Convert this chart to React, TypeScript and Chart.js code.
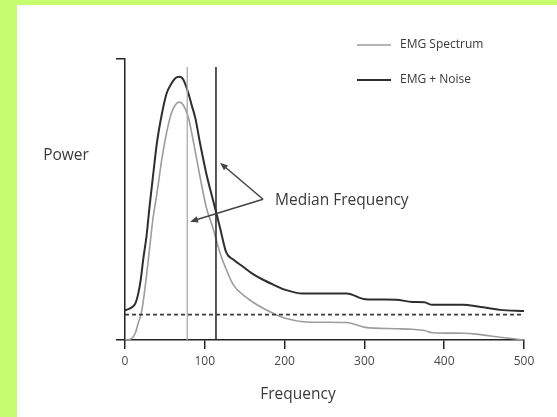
import React, { useEffect, useRef } from 'react';
import { Chart, registerables } from 'chart.js';

Chart.register(...registerables);

// ---- data ----
const frequency = [0, 8, 13, 17, 20, 23, 27, 31, 35, 40, 46, 52, 58, 63, 68, 73, 79, 84, 88, 94, 102, 110, 119, 127, 136, 148, 160, 173, 187, 201, 223, 250, 278, 301, 340, 360, 375, 385, 424, 440, 470, 500];
const emgSpectrum = [0, 0.5, 2.5, 6.5, 9, 14, 23, 33, 43, 52, 64, 73.5, 80.5, 83.5, 84.5, 83.5, 79.5, 73, 67, 58, 47, 40, 31, 25, 19.5, 16, 13.5, 11.3, 9.3, 7.7, 6.5, 6.3, 6.2, 4.5, 4, 3.8, 3.4, 2.6, 2.4, 2.1, 1, 0];
const emgNoise = [10.5, 11.5, 13, 17, 22, 29, 37, 48, 58, 70, 80, 87.5, 91, 93, 93.5, 92.5, 88, 83, 79, 70, 59, 50, 40, 31, 28.5, 26, 23.5, 21.4, 19.5, 17.8, 16.5, 16.5, 16.5, 14.5, 14.3, 13.5, 13.4, 12.5, 12.5, 12, 10.7, 10.3];
const noiseFloor = 9;
const medianSpectrum = 78;
const medianNoise = 114;
const medianTop = 97;
const xTickStep = 100;
const xMin = 0;
const xMax = 500;
const yMin = 0;
const yMax = 100;
const seriesLabels = ['EMG Spectrum', 'EMG + Noise'];
const annotationText = 'Median Frequency';
// annotation anchor points in data units (frequency, power)
const arrowApex = { x: 173, y: 50 };
const arrowTips = [{ x: 119, y: 63 }, { x: 81.5, y: 42 }];
const annotationTextX = 188;

const FONT = '"Open Sans", "Noto Sans", sans-serif';
const GREEN = '#c5fd6e';
const DARK = '#2e2e2e';
const GRAY = '#9c9c9c';
const TEXT = '#3a3a3a';

const decor = {
  id: 'decor',
  beforeDraw(chart: any) {
    const { ctx, width, height } = chart;
    ctx.save();
    ctx.fillStyle = '#ffffff';
    ctx.fillRect(0, 0, width, height);
    ctx.fillStyle = GREEN;
    ctx.fillRect(0, 0, width, 5);
    ctx.fillRect(0, 0, 17, height);
    ctx.restore();
  },
  afterDraw(chart: any) {
    const { ctx } = chart;
    const xs = chart.scales.x;
    const ys = chart.scales.y;
    ctx.save();
    // axis titles
    ctx.fillStyle = TEXT;
    ctx.textAlign = 'center';
    ctx.textBaseline = 'middle';
    ctx.font = `15.5px ${FONT}`;
    ctx.fillText('Power', 66, 156);
    ctx.font = `15.5px ${FONT}`;
    ctx.fillText('Frequency', 298, 395);

    // legend
    const legendRows = [45, 80];
    const ds = chart.data.datasets.filter((d: any) => d.inLegend);
    ds.forEach((d: any, i: number) => {
      const y = legendRows[i];
      ctx.strokeStyle = d.borderColor;
      ctx.lineWidth = d.borderWidth;
      ctx.beginPath();
      ctx.moveTo(357, y);
      ctx.lineTo(391, y);
      ctx.stroke();
      ctx.fillStyle = TEXT;
      ctx.textAlign = 'left';
      ctx.textBaseline = 'middle';
      ctx.font = `12px ${FONT}`;
      ctx.fillText(d.label, 400, y);
    });

    // annotation
    const ax = xs.getPixelForValue(arrowApex.x);
    const ay = ys.getPixelForValue(arrowApex.y);
    ctx.strokeStyle = '#444';
    ctx.fillStyle = '#444';
    ctx.lineWidth = 1.5;
    arrowTips.forEach((t) => {
      const tx = xs.getPixelForValue(t.x);
      const ty = ys.getPixelForValue(t.y);
      const ang = Math.atan2(ty - ay, tx - ax);
      ctx.beginPath();
      ctx.moveTo(ax, ay);
      ctx.lineTo(tx - 4 * Math.cos(ang), ty - 4 * Math.sin(ang));
      ctx.stroke();
      const L = 8, W = 3.2;
      ctx.beginPath();
      ctx.moveTo(tx, ty);
      ctx.lineTo(tx - L * Math.cos(ang) + W * Math.sin(ang), ty - L * Math.sin(ang) - W * Math.cos(ang));
      ctx.lineTo(tx - L * Math.cos(ang) - W * Math.sin(ang), ty - L * Math.sin(ang) + W * Math.cos(ang));
      ctx.closePath();
      ctx.fill();
    });
    ctx.fillStyle = TEXT;
    ctx.textAlign = 'left';
    ctx.textBaseline = 'middle';
    ctx.font = `15.5px ${FONT}`;
    ctx.fillText(annotationText, xs.getPixelForValue(annotationTextX), ay + 1);
    ctx.restore();
  },
};

export default function App() {
  const ref = useRef<HTMLCanvasElement | null>(null);
  useEffect(() => {
    document.body.style.margin = '0';
    const canvas = ref.current;
    if (!canvas) return;
    const pts = (ys: number[]) => frequency.map((f, i) => ({ x: f, y: ys[i] }));
    const chart = new Chart(canvas, {
      type: 'scatter',
      data: {
        datasets: [
          {
            label: 'noise floor',
            data: [{ x: xMin, y: noiseFloor }, { x: xMax, y: noiseFloor }],
            showLine: true,
            borderColor: '#3a3a3a',
            borderWidth: 1.8,
            borderDash: [4, 3],
            pointRadius: 0,
          },
          {
            label: 'median spectrum',
            data: [{ x: medianSpectrum, y: yMin }, { x: medianSpectrum, y: medianTop }],
            showLine: true,
            borderColor: '#aaaaaa',
            borderWidth: 1.3,
            pointRadius: 0,
          },
          {
            label: 'median noise',
            data: [{ x: medianNoise, y: yMin }, { x: medianNoise, y: medianTop }],
            showLine: true,
            borderColor: DARK,
            borderWidth: 1.6,
            pointRadius: 0,
          },
          {
            label: seriesLabels[0],
            inLegend: true,
            data: pts(emgSpectrum),
            showLine: true,
            borderColor: GRAY,
            borderWidth: 1.6,
            pointRadius: 0,
            cubicInterpolationMode: 'monotone',
          } as any,
          {
            label: seriesLabels[1],
            inLegend: true,
            data: pts(emgNoise),
            showLine: true,
            borderColor: DARK,
            borderWidth: 2,
            pointRadius: 0,
            cubicInterpolationMode: 'monotone',
          } as any,
        ],
      },
      options: {
        responsive: false,
        animation: false,
        devicePixelRatio: 1,
        layout: { padding: { left: 125, top: 58.5, right: 33, bottom: 0 } },
        plugins: { legend: { display: false }, tooltip: { enabled: false } },
        scales: {
          x: {
            type: 'linear',
            min: xMin,
            max: xMax,
            ticks: { stepSize: xTickStep, color: '#4a4a4a', font: { size: 12, family: FONT }, padding: 5, maxRotation: 0 },
            grid: { drawOnChartArea: false, drawTicks: true, tickLength: 9, color: '#222', lineWidth: 1.5 },
            border: { display: true, color: '#222', width: 1.5 },
            afterFit: (s: any) => { s.height = 77; },
          },
          y: {
            type: 'linear',
            min: yMin,
            max: yMax,
            ticks: { stepSize: yMax - yMin, callback: () => '' },
            grid: { drawOnChartArea: false, drawTicks: true, tickLength: 9, color: '#222', lineWidth: 1.5 },
            border: { display: true, color: '#222', width: 1.5 },
            afterFit: (s: any) => { s.width = 0; },
          },
        },
      },
      plugins: [decor],
    } as any);
    return () => chart.destroy();
  }, []);
  return (
    <div style={{ position: 'fixed', left: 0, top: 0, width: 557, height: 417 }}>
      <canvas ref={ref} width={557} height={417} style={{ width: 557, height: 417, display: 'block' }} />
    </div>
  );
}
